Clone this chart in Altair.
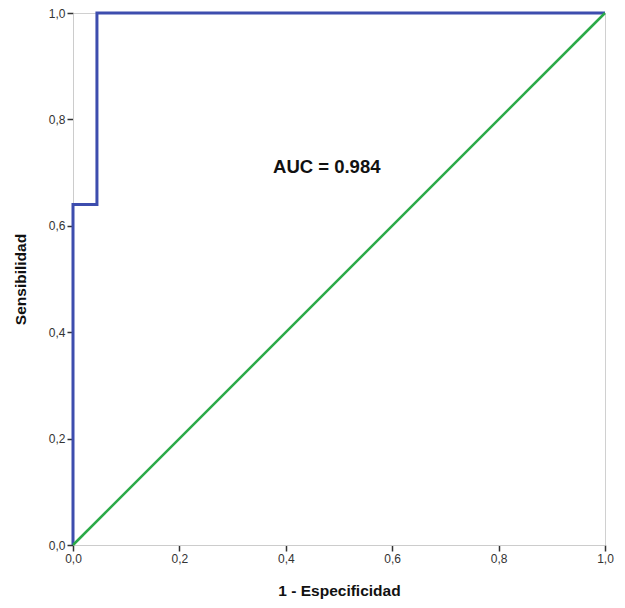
import altair as alt
import pandas as pd

# ROC curve (step) and reference diagonal
fpr = [0.0, 0.0, 0.045, 0.045, 1.0]
tpr = [0.0, 0.64, 0.64, 1.0, 1.0]
diag_x = [0.0, 1.0]
diag_y = [0.0, 1.0]
auc_label = "AUC = 0.984"
auc_x = [0.477]
auc_y = [0.71]

roc = pd.DataFrame({"x": fpr, "y": tpr, "o": list(range(len(fpr)))})
diag = pd.DataFrame({"x": diag_x, "y": diag_y})
ann = pd.DataFrame({"x": auc_x, "y": auc_y, "t": [auc_label]})

label_expr = "replace(format(datum.value, '.1f'), '.', ',')"
font = "Liberation Sans"

xscale = alt.Scale(domain=[0, 1], nice=False, zero=False)
yscale = alt.Scale(domain=[0, 1], nice=False, zero=False)

common = dict(values=[0, 0.2, 0.4, 0.6, 0.8, 1.0], labelExpr=label_expr, grid=False,
              tickSize=6, tickColor="#333", tickWidth=1.5, domainColor="#cccccc",
              labelFont=font, labelFontSize=12, labelColor="#333", titleFont=font,
              titleFontSize=15.5, titleFontWeight="bold", titleColor="#111",
              labelPadding=2, labelFlush=False)

xaxis = alt.Axis(title="1 - Especificidad", titlePadding=19, **common)
yaxis = alt.Axis(title="Sensibilidad", titlePadding=20, **common)

blue = alt.Chart(roc).mark_line(color="#3D4DAE", strokeWidth=3, interpolate="linear").encode(
    x=alt.X("x:Q", scale=xscale, axis=xaxis),
    y=alt.Y("y:Q", scale=yscale, axis=yaxis),
    order="o:O",
)
green = alt.Chart(diag).mark_line(color="#2BAA48", strokeWidth=2.5).encode(
    x=alt.X("x:Q", scale=xscale),
    y=alt.Y("y:Q", scale=yscale),
)
text = alt.Chart(ann).mark_text(font=font, fontSize=18.5, fontWeight="bold", color="#111").encode(
    x=alt.X("x:Q", scale=xscale),
    y=alt.Y("y:Q", scale=yscale),
    text="t:N",
)

chart = alt.layer(blue, green, text).properties(
    width=532, height=532,
    autosize=alt.AutoSizeParams(type="none"),
    padding={"left": 65, "top": 5, "right": 11, "bottom": 55},
    background="white",
).configure_view(stroke="#d0d0d0", strokeWidth=1)

chart.save("out.html", embed_options={"renderer": "svg", "actions": False})
